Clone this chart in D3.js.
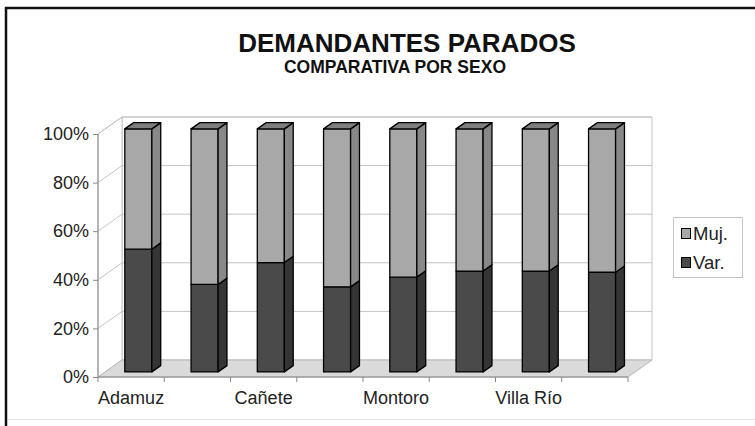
<!DOCTYPE html>
<html>
<head>
<meta charset="utf-8">
<script src="https://cdn.jsdelivr.net/npm/d3@7"></script>
<style>
  body { margin: 0; background: #fff; }
  svg { display: block; font-family: "Liberation Sans", Arial, sans-serif; }
</style>
</head>
<body>
<div id="chart"></div>
<script>
const categories = ["Adamuz", "Bujalance", "Cañete", "El Carpio", "Montoro", "Pedro Abad", "Villa Río", "Villafranca"];
const varValues = [50.5, 36, 45, 35, 39, 41.5, 41.5, 41];
const mujValues = [49.5, 64, 55, 65, 61, 58.5, 58.5, 59];
const seriesNames = ["Var.", "Muj."];
const yTicks = [0, 20, 40, 60, 80, 100];

const width = 755, height = 426;
const DX = 24, DY = 17;          // depth of the 3D box
const z0 = 0.3, z1 = 0.67;       // bar depth inside the box

const svg = d3.select("#chart").append("svg")
  .attr("width", width)
  .attr("height", height);

const x = d3.scaleBand().domain(categories).range([98, 628])
  .paddingInner(0.592).paddingOuter(0.296);
const xCat = d3.scaleBand().domain(categories).range([98, 628]).padding(0);
const y = d3.scaleLinear().domain([0, 100]).range([377, 134]);

const P = (sx, v, z) => [sx + z * DX, y(v) - z * DY];
const poly = pts => "M" + pts.map(p => p.join(",")).join("L") + "Z";

// frame
svg.append("rect").attr("x", 0).attr("y", 0).attr("width", width).attr("height", height).attr("fill", "#fff");
svg.append("line").attr("x1", 5).attr("x2", width).attr("y1", 8).attr("y2", 8)
  .attr("stroke", "#111").attr("stroke-width", 2.5);
svg.append("line").attr("x1", 6).attr("x2", 6).attr("y1", 7).attr("y2", height)
  .attr("stroke", "#111").attr("stroke-width", 2.5);
svg.append("line").attr("x1", 8).attr("x2", width).attr("y1", 419.5).attr("y2", 419.5)
  .attr("stroke", "#e4e4e4").attr("stroke-width", 1);

// title
svg.append("text").attr("x", 407).attr("y", 52).attr("text-anchor", "middle")
  .attr("font-size", 26).attr("font-weight", "bold").attr("fill", "#111")
  .text("DEMANDANTES PARADOS");
svg.append("text").attr("x", 395).attr("y", 73).attr("text-anchor", "middle")
  .attr("font-size", 17.5).attr("font-weight", "bold").attr("fill", "#111")
  .text("COMPARATIVA POR SEXO");

const x0 = xCat.range()[0], x1 = xCat.range()[1];

// back wall
svg.append("path")
  .attr("d", poly([P(x0, 0, 1), P(x1, 0, 1), P(x1, 100, 1), P(x0, 100, 1)]))
  .attr("fill", "#fff").attr("stroke", "#c4c4c4");
// left wall
svg.append("path")
  .attr("d", poly([P(x0, 0, 0), P(x0, 0, 1), P(x0, 100, 1), P(x0, 100, 0)]))
  .attr("fill", "#fff").attr("stroke", "#c4c4c4");

// gridlines
const grid = svg.append("g").attr("stroke", "#c4c4c4").attr("fill", "none");
yTicks.filter(t => t > 0).forEach(t => {
  grid.append("path").attr("d", "M" + [P(x0, t, 0), P(x0, t, 1), P(x1, t, 1)].map(p => p.join(",")).join("L"));
});

// floor
svg.append("path")
  .attr("d", poly([P(x0, 0, 0), P(x1, 0, 0), P(x1, 0, 1), P(x0, 0, 1)]))
  .attr("fill", "#dadada").attr("stroke", "#b8b8b8");

// axes lines
svg.append("line").attr("x1", x0).attr("x2", x0).attr("y1", y(0)).attr("y2", y(100))
  .attr("stroke", "#888");
svg.append("line").attr("x1", x0).attr("x2", x1).attr("y1", y(0)).attr("y2", y(0))
  .attr("stroke", "#888");

// y axis
const yAxis = svg.append("g")
  .attr("transform", `translate(${x0},0)`)
  .call(d3.axisLeft(y).tickValues(yTicks).tickSize(5).tickPadding(4).tickFormat(d => d + "%"));
yAxis.select(".domain").remove();
yAxis.selectAll(".tick line").attr("stroke", "#888");
yAxis.selectAll(".tick text").attr("font-size", 18).attr("fill", "#222")
  .attr("font-family", "Liberation Sans, Arial, sans-serif");

// x ticks at category boundaries
const bounds = categories.map(c => xCat(c)).concat([x1]);
svg.append("g").selectAll("line").data(bounds).join("line")
  .attr("x1", d => d).attr("x2", d => d)
  .attr("y1", y(0)).attr("y2", y(0) + 5)
  .attr("stroke", "#888");

svg.append("g").selectAll("text").data(categories.filter((c, i) => i % 2 === 0)).join("text")
  .attr("x", d => xCat(d) + xCat.bandwidth() / 2)
  .attr("y", 404)
  .attr("text-anchor", "middle")
  .attr("font-size", 18).attr("fill", "#222")
  .text(d => d);

// bars
const colors = {
  "Var.": {front: "#4a4a4a", side: "#353535", top: "#3c3c3c"},
  "Muj.": {front: "#a8a8a8", side: "#888888", top: "#7e7e7e"}
};

const stacked = categories.map((c, i) => {
  const segs = [];
  let base = 0;
  [varValues[i], mujValues[i]].forEach((v, k) => {
    segs.push({cat: c, name: seriesNames[k], lo: base, hi: base + v});
    base += v;
  });
  return segs;
});

const barG = svg.append("g")
  .attr("stroke", "#000").attr("stroke-width", 1.3).attr("stroke-linejoin", "round");

stacked.forEach(segs => {
  segs.forEach((s, k) => {
    const xl = x(s.cat), xr = x(s.cat) + x.bandwidth();
    const c = colors[s.name];
    barG.append("path").attr("fill", c.front)
      .attr("d", poly([P(xl, s.lo, z0), P(xr, s.lo, z0), P(xr, s.hi, z0), P(xl, s.hi, z0)]));
    barG.append("path").attr("fill", c.side)
      .attr("d", poly([P(xr, s.lo, z0), P(xr, s.lo, z1), P(xr, s.hi, z1), P(xr, s.hi, z0)]));
    if (k === segs.length - 1) {
      barG.append("path").attr("fill", c.top)
        .attr("d", poly([P(xl, s.hi, z0), P(xr, s.hi, z0), P(xr, s.hi, z1), P(xl, s.hi, z1)]));
    }
  });
});

// legend
const legend = svg.append("g");
legend.append("rect").attr("x", 673.5).attr("y", 217.5).attr("width", 69).attr("height", 60)
  .attr("fill", "#fff").attr("stroke", "#c4c4c4");
[...seriesNames].reverse().forEach((n, i) => {
  const gy = 228 + i * 29;
  legend.append("rect").attr("x", 681.5).attr("y", gy + 0.5).attr("width", 9).attr("height", 10)
    .attr("fill", colors[n].front).attr("stroke", "#000");
  legend.append("text").attr("x", 693).attr("y", gy + 11.5)
    .attr("font-size", 18.5).attr("fill", "#222").text(n);
});
</script>
</body>
</html>
